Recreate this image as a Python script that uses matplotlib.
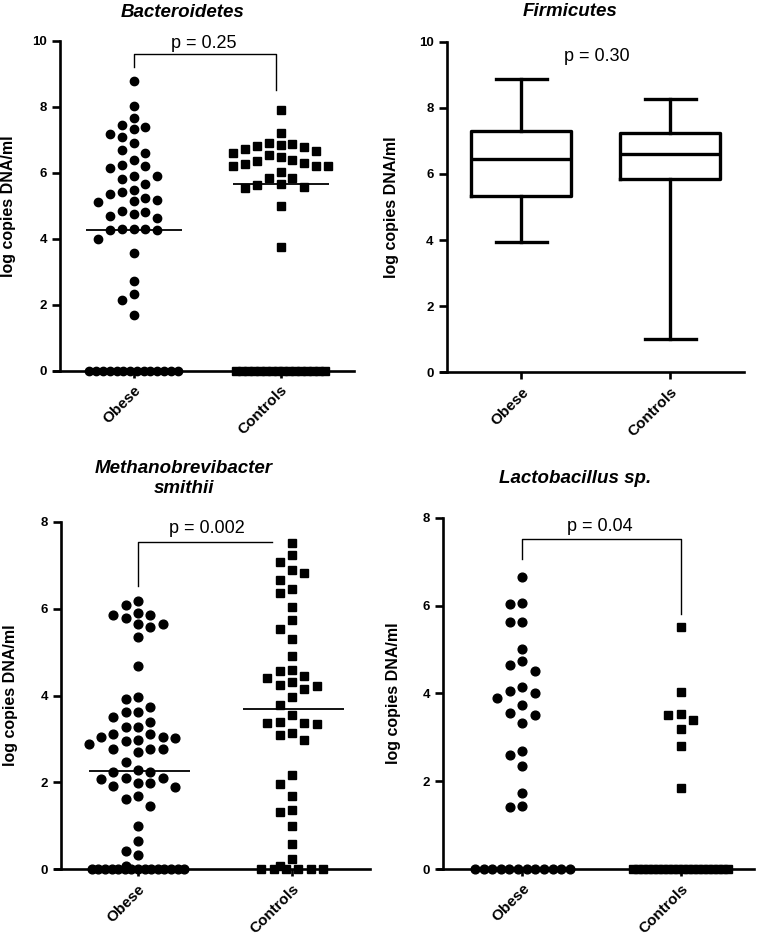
import numpy as np
import matplotlib
matplotlib.use('Agg')
import matplotlib.pyplot as plt

plt.rcParams['font.family'] = ['Liberation Sans', 'DejaVu Sans']

# ---------------- data ----------------
groups = ['Obese', 'Controls']
ylabel_text = 'log copies DNA/ml'

# Bacteroidetes
bact_title = 'Bacteroidetes'
bact_obese = [8.79, 8.02, 7.66, 7.44, 7.37, 7.31, 7.09, 7.17, 6.89, 6.69, 6.61, 6.38,
              6.21, 6.24, 6.13, 5.91, 5.91, 5.81, 5.65, 5.48, 5.41, 5.34, 5.22, 5.13,
              5.10, 5.16, 4.85, 4.82, 4.76, 4.69, 4.62, 4.28, 4.25, 4.25, 4.28, 4.28,
              3.98, 3.56, 2.72, 2.31, 2.14, 1.68]
bact_obese_zeros = 14
bact_ctrl = [7.90, 7.21, 6.91, 6.83, 6.87, 6.79, 6.82, 6.72, 6.67, 6.55, 6.48, 6.59,
             6.34, 6.28, 6.27, 6.38, 6.21, 6.21, 6.21, 6.03, 5.85, 5.83, 5.65, 5.58,
             5.55, 5.63, 5.00, 3.76]
bact_ctrl_zeros = 16
bact_medians = [4.26, 5.66]
bact_p = 'p = 0.25'

# Firmicutes (whislo, q1, median, q3, whishi)
firm_title = 'Firmicutes'
firm_obese_stats = [3.93, 5.34, 6.46, 7.31, 8.86]
firm_ctrl_stats = [1.00, 5.85, 6.60, 7.25, 8.26]
firm_p = 'p = 0.30'

# Methanobrevibacter smithii
ms_title = 'Methanobrevibacter\nsmithii'
ms_obese = [6.18, 6.09, 5.91, 5.86, 5.86, 5.78, 5.64, 5.64, 5.57, 5.35, 4.68, 3.96,
            3.91, 3.74, 3.63, 3.63, 3.51, 3.38, 3.27, 3.28, 3.11, 3.11, 3.04, 3.05,
            3.03, 2.96, 2.98, 2.88, 2.78, 2.76, 2.78, 2.71, 2.48, 2.29, 2.23, 2.25,
            2.09, 2.11, 2.07, 1.98, 1.92, 1.90, 1.98, 1.69, 1.62, 1.46, 1.00, 0.65,
            0.42, 0.33, 0.08]
ms_obese_zeros = 15
ms_ctrl = [7.52, 7.23, 7.08, 6.89, 6.83, 6.66, 6.46, 6.37, 6.03, 5.74, 5.54, 5.30,
           4.91, 4.59, 4.57, 4.46, 4.41, 4.32, 4.23, 4.24, 4.16, 3.96, 3.78, 3.54,
           3.40, 3.36, 3.37, 3.34, 3.13, 3.08, 2.98, 2.17, 1.96, 1.69, 1.37, 1.33,
           1.00, 0.58, 0.23, 0.08]
ms_ctrl_zeros = 6
ms_medians = [2.27, 3.68]
ms_p = 'p = 0.002'

# Lactobacillus sp.
lac_title = 'Lactobacillus sp.'
lac_obese = [6.64, 6.06, 6.03, 5.63, 5.63, 5.02, 4.74, 4.65, 4.52, 4.15, 4.00, 4.06,
             3.89, 3.73, 3.51, 3.56, 3.32, 2.69, 2.60, 2.35, 1.74, 1.44, 1.42]
lac_obese_zeros = 12
lac_ctrl = [5.52, 4.02, 3.54, 3.51, 3.39, 3.18, 2.80, 1.84]
lac_ctrl_zeros = 20
lac_p = 'p = 0.04'

# ---------------- layout ----------------
W, H = 762, 944
fig = plt.figure(figsize=(W / 100, H / 100), dpi=100)
fig.patch.set_facecolor('white')

LW = 1.9
STEP = 0.08       # column spacing of the scatter (data units)
MAXHALF = 0.30    # max half width of a row
DIAM = 11.5       # vertical clearance between points of one column (pixels)


def make_axes(l, r, t, b, xlim, ylim, yticks):
    ax = fig.add_axes([l / W, 1 - b / H, (r - l) / W, (b - t) / H])
    ax.set_xlim(*xlim)
    ax.set_ylim(*ylim)
    for s in ('top', 'right'):
        ax.spines[s].set_visible(False)
    ax.spines['left'].set_position(('data', 0.5))
    ax.spines['left'].set_linewidth(LW)
    ax.spines['bottom'].set_linewidth(LW)
    ax.spines['left'].set_capstyle('projecting')
    ax.set_yticks(yticks)
    ax.set_xticks([1, 2])
    ax.set_xticklabels(groups, rotation=45, ha='right', rotation_mode='anchor',
                       fontsize=11, fontweight='bold')
    for lab in ax.get_yticklabels():
        lab.set_fontweight('bold')
        lab.set_fontsize(9.5)
    ax.tick_params(axis='y', direction='out', length=6, width=LW, pad=3.5)
    ax.tick_params(axis='x', direction='out', length=5, width=LW, pad=4)
    ax.set_ylabel(ylabel_text, fontsize=11.5, fontweight='bold', va='center')
    ppx = (r - l) / (xlim[1] - xlim[0])
    ppy = (b - t) / (ylim[1] - ylim[0])
    return ax, ppx, ppy


def swarm_offsets(values, ppx, ppy):
    vals = np.asarray(values, dtype=float)
    res = np.zeros(len(vals))
    placed = []
    order = np.argsort(-vals, kind='stable')
    cand = [0]
    for k in range(1, 12):
        cand += [-k, k]
    for i in order:
        v = vals[i]
        for k in cand:
            x = k * STEP
            ok = True
            for (px, py) in placed:
                if abs(x - px) * ppx < 6 and abs(v - py) * ppy < DIAM:
                    ok = False
                    break
            if ok:
                break
        placed.append((x, v))
        res[i] = x
    return res


def zero_offsets(n):
    if n <= 1:
        return np.zeros(n)
    sp = min(STEP, 2 * MAXHALF / (n - 1))
    return (np.arange(n) - (n - 1) / 2) * sp


def scatter_group(ax, xc, values, nzero, marker, ms, ppx, ppy):
    off = swarm_offsets(values, ppx, ppy)
    zoff = zero_offsets(nzero)
    ax.plot(xc + zoff, np.zeros(nzero), linestyle='none', marker=marker, ms=ms,
            color='black', mec='black', clip_on=False, zorder=3)
    ax.plot(xc + off, values, linestyle='none', marker=marker, ms=ms,
            color='black', mec='black', clip_on=False, zorder=3)


def title(ax, text, xf, yf):
    ax.text(xf, yf, text, transform=ax.transAxes, ha='center', va='center',
            fontsize=13.5, fontweight='bold', fontstyle='italic', linespacing=1.25)


# ---- Panel 1: Bacteroidetes ----
ax1, px1, py1 = make_axes(54, 354, 40.7, 370.7, (0.459, 2.5), (0, 10), [0, 2, 4, 6, 8, 10])
scatter_group(ax1, 1, bact_obese, bact_obese_zeros, 'o', 6.0, px1, py1)
scatter_group(ax1, 2, bact_ctrl, bact_ctrl_zeros, 's', 5.8, px1, py1)
for xc, m in zip([1, 2], bact_medians):
    ax1.hlines(m, xc - 0.32, xc + 0.33, color='black', lw=1.3, zorder=4)
ax1.plot([1, 1, 1.97, 1.97], [9.21, 9.6, 9.6, 8.5], color='black', lw=1.0)
ax1.text(1.48, 9.92, bact_p, ha='center', va='center', fontsize=13)
title(ax1, bact_title, 0.43, 1.084)
ax1.yaxis.set_label_coords(-0.15, 0.5)

# ---- Panel 2: Firmicutes ----
ax2, px2, py2 = make_axes(441, 744, 41.7, 372.3, (0.462, 2.495), (0, 10), [0, 2, 4, 6, 8, 10])
stats = []
for lab, s in zip(groups, [firm_obese_stats, firm_ctrl_stats]):
    stats.append(dict(label=lab, whislo=s[0], q1=s[1], med=s[2], q3=s[3], whishi=s[4], fliers=[]))
lw_box = 2.4
ax2.bxp(stats, positions=[1, 2], widths=0.67, showfliers=False, manage_ticks=False,
        boxprops=dict(color='black', lw=lw_box),
        medianprops=dict(color='black', lw=lw_box),
        whiskerprops=dict(color='black', lw=lw_box),
        capprops=dict(color='black', lw=lw_box),
        capwidths=0.34)
ax2.text(1.51, 9.55, firm_p, ha='center', va='center', fontsize=13)
title(ax2, firm_title, 0.425, 1.09)
ax2.yaxis.set_label_coords(-0.165, 0.5)

# ---- Panel 3: Methanobrevibacter smithii ----
ax3, px3, py3 = make_axes(55, 370, 521.7, 869.3, (0.461, 2.506), (0, 8), [0, 2, 4, 6, 8])
scatter_group(ax3, 1, ms_obese, ms_obese_zeros, 'o', 6.3, px3, py3)
scatter_group(ax3, 2, ms_ctrl, ms_ctrl_zeros, 's', 6.0, px3, py3)
for xc, m in zip([1, 2], ms_medians):
    ax3.hlines(m, xc - 0.32, xc + 0.34, color='black', lw=1.3, zorder=4)
ax3.plot([1, 1, 1.87], [6.53, 7.54, 7.54], color='black', lw=1.0)
ax3.text(1.45, 7.84, ms_p, ha='center', va='center', fontsize=13)
title(ax3, ms_title, 0.41, 1.124)
ax3.yaxis.set_label_coords(-0.14, 0.5)

# ---- Panel 4: Lactobacillus sp. ----
ax4, px4, py4 = make_axes(437.6, 754, 517.7, 869, (0.464, 2.463), (0, 8), [0, 2, 4, 6, 8])
scatter_group(ax4, 1, lac_obese, lac_obese_zeros, 'o', 6.3, px4, py4)
scatter_group(ax4, 2, lac_ctrl, lac_ctrl_zeros, 's', 6.0, px4, py4)
ax4.plot([1, 1, 2.0, 2.0], [7.07, 7.51, 7.51, 5.81], color='black', lw=1.0)
ax4.text(1.49, 7.81, lac_p, ha='center', va='center', fontsize=13)
title(ax4, lac_title, 0.435, 1.113)
ax4.yaxis.set_label_coords(-0.14, 0.5)

fig.savefig('out.png', dpi=100, facecolor='white')
